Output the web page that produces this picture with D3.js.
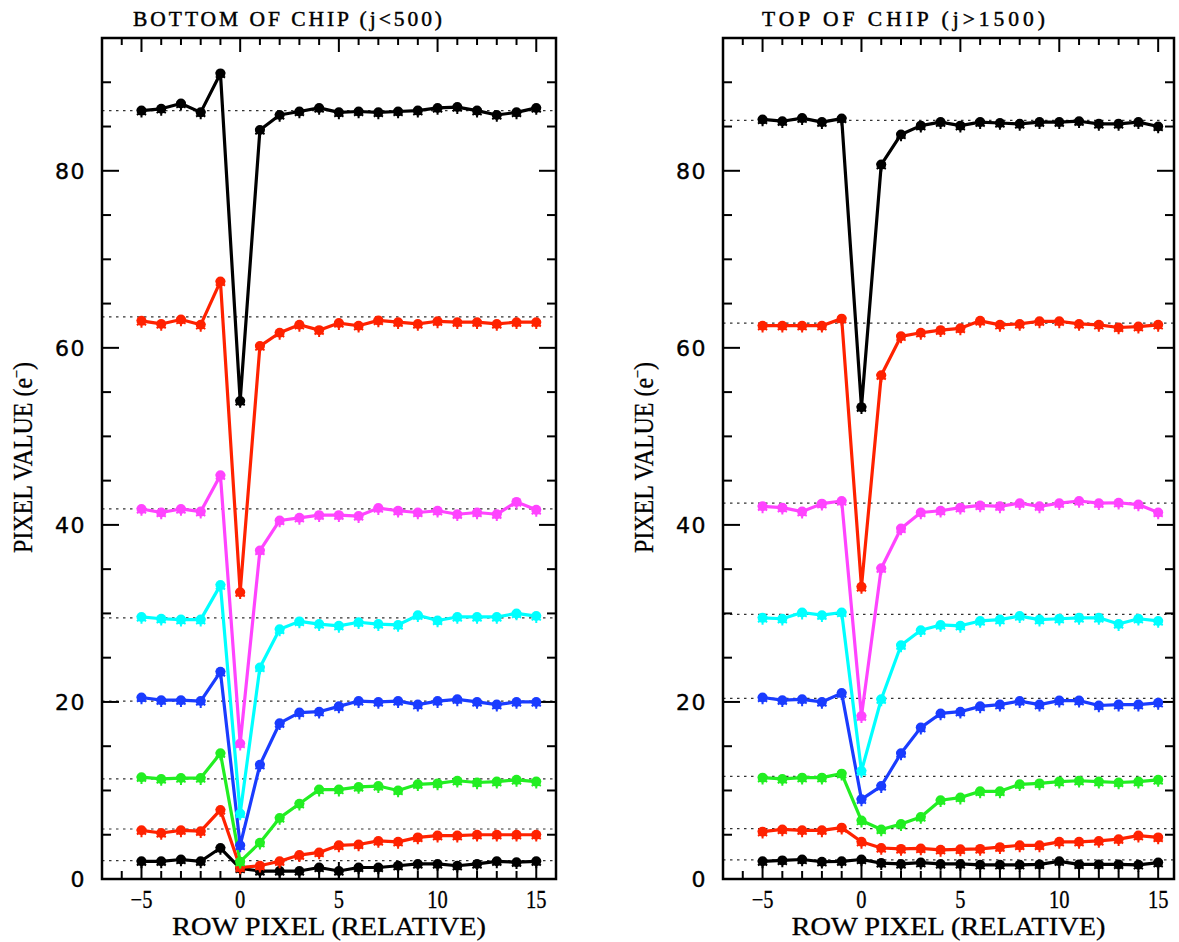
<!DOCTYPE html>
<html>
<head>
<meta charset="utf-8">
<script src="https://cdn.jsdelivr.net/npm/d3@7"></script>
<style>
  html, body { margin: 0; padding: 0; background: #fff; }
  svg { display: block; }
</style>
</head>
<body>
<svg id="chart" width="1179" height="942"></svg>
<script>
// Row offsets relative to the trap row
const rowPixel = [-5, -4, -3, -2, -1, 0, 1, 2, 3, 4, 5, 6, 7, 8, 9, 10, 11, 12, 13, 14, 15];

// Series colours, from the brightest background level down to the faintest
const seriesColors = ["#000000", "#ff2200", "#ff44ff", "#00ffff", "#1a3cff", "#22ee22", "#ff2200", "#000000"];

// Bottom of chip (j<500): mean background level of each series
const bottomLevels = [86.8, 63.5, 41.8, 29.5, 20.1, 11.3, 5.65, 2.07];
// Bottom of chip: pixel values per row offset
const bottomBlackHigh = [86.8, 87.0, 87.6, 86.6, 91.0, 54.0, 84.6, 86.3, 86.7, 87.1, 86.6, 86.7, 86.6, 86.7, 86.8, 87.1, 87.2, 86.8, 86.3, 86.6, 87.1];
const bottomRedHigh   = [63.05, 62.7, 63.2, 62.6, 67.5, 32.4, 60.2, 61.7, 62.6, 62.0, 62.8, 62.5, 63.1, 62.9, 62.7, 63.0, 62.9, 62.9, 62.7, 62.9, 62.9];
const bottomMagenta   = [41.8, 41.4, 41.8, 41.5, 45.6, 15.3, 37.1, 40.5, 40.8, 41.1, 41.1, 41.0, 41.9, 41.6, 41.4, 41.6, 41.2, 41.4, 41.2, 42.6, 41.7];
const bottomCyan      = [29.6, 29.4, 29.3, 29.3, 33.2, 7.4, 23.9, 28.2, 29.1, 28.8, 28.6, 29.0, 28.8, 28.7, 29.8, 29.2, 29.6, 29.6, 29.6, 30.0, 29.7];
const bottomBlue      = [20.5, 20.2, 20.2, 20.1, 23.4, 3.8, 12.9, 17.6, 18.8, 18.9, 19.5, 20.1, 20.0, 20.1, 19.7, 20.1, 20.3, 20.0, 19.7, 20.0, 20.0];
const bottomGreen     = [11.5, 11.3, 11.4, 11.4, 14.2, 1.96, 4.1, 6.9, 8.5, 10.1, 10.1, 10.4, 10.5, 10.0, 10.7, 10.8, 11.1, 10.9, 11.0, 11.2, 11.0];
const bottomRedLow    = [5.5, 5.2, 5.5, 5.4, 7.8, 1.3, 1.5, 2.0, 2.7, 3.0, 3.8, 3.9, 4.3, 4.2, 4.7, 4.9, 4.9, 5.0, 5.0, 5.0, 5.0];
const bottomBlackLow  = [2.0, 2.0, 2.2, 2.0, 3.5, 1.2, 0.9, 0.9, 0.9, 1.3, 0.9, 1.3, 1.3, 1.5, 1.7, 1.7, 1.5, 1.7, 2.0, 1.9, 2.0];

// Top of chip (j>1500): mean background level of each series
const topLevels = [85.7, 62.8, 42.45, 29.9, 20.4, 11.6, 5.7, 2.15];
// Top of chip: pixel values per row offset
const topBlackHigh = [85.8, 85.6, 85.95, 85.5, 85.9, 53.3, 80.7, 84.1, 85.1, 85.5, 85.1, 85.5, 85.4, 85.3, 85.5, 85.5, 85.6, 85.3, 85.3, 85.5, 85.0];
const topRedHigh   = [62.5, 62.5, 62.5, 62.5, 63.3, 33.0, 56.9, 61.3, 61.7, 62.0, 62.2, 63.05, 62.6, 62.7, 63.0, 63.0, 62.7, 62.6, 62.3, 62.4, 62.6];
const topMagenta   = [42.1, 41.95, 41.5, 42.4, 42.7, 18.4, 35.1, 39.6, 41.4, 41.6, 41.95, 42.2, 42.1, 42.45, 42.1, 42.45, 42.7, 42.45, 42.5, 42.3, 41.4];
const topCyan      = [29.5, 29.4, 30.1, 29.8, 30.1, 12.2, 20.3, 26.4, 28.1, 28.7, 28.6, 29.15, 29.3, 29.7, 29.3, 29.4, 29.5, 29.5, 28.8, 29.4, 29.15];
const topBlue      = [20.5, 20.2, 20.3, 20.0, 21.0, 9.0, 10.5, 14.2, 17.1, 18.7, 18.9, 19.5, 19.7, 20.1, 19.7, 20.15, 20.15, 19.6, 19.7, 19.7, 19.9];
const topGreen     = [11.45, 11.3, 11.45, 11.45, 11.9, 6.6, 5.6, 6.2, 7.0, 8.9, 9.2, 9.9, 9.9, 10.7, 10.8, 11.0, 11.1, 11.0, 10.9, 11.0, 11.2];
const topRedLow    = [5.35, 5.6, 5.5, 5.5, 5.8, 4.2, 3.5, 3.4, 3.45, 3.3, 3.35, 3.4, 3.6, 3.8, 3.8, 4.2, 4.2, 4.3, 4.5, 4.9, 4.7];
const topBlackLow  = [2.0, 2.1, 2.2, 1.95, 2.0, 2.2, 1.8, 1.7, 1.85, 1.7, 1.7, 1.6, 1.6, 1.6, 1.65, 2.0, 1.65, 1.65, 1.65, 1.6, 1.85];

// Axis ticks
const xMajorTicks = [-5, 0, 5, 10, 15];
const xTickLabels = ["\u22125", "0", "5", "10", "15"];
const yMajorTicks = [0, 20, 40, 60, 80];
const yTickLabels = ["0", "20", "40", "60", "80"];

const panelTitles = ["BOTTOM OF CHIP (j<500)", "TOP OF CHIP (j>1500)"];
const xAxisTitle = "ROW PIXEL (RELATIVE)";
const yAxisTitle = "PIXEL VALUE (e";

const panels = [
  {
    title: panelTitles[0],
    levels: bottomLevels,
    series: [bottomBlackHigh, bottomRedHigh, bottomMagenta, bottomCyan, bottomBlue, bottomGreen, bottomRedLow, bottomBlackLow],
    left: 102, right: 556, xMax: 16, titleX: 133, titleW: 309
  },
  {
    title: panelTitles[1],
    levels: topLevels,
    series: [topBlackHigh, topRedHigh, topMagenta, topCyan, topBlue, topGreen, topRedLow, topBlackLow],
    left: 723, right: 1174, xMax: 15.8, titleX: 762, titleW: 283
  }
];

const serif = "'Liberation Serif', 'DejaVu Serif', serif";
const svg = d3.select("#chart");
const plotTop = 38, plotBottom = 879;
const y = d3.scaleLinear().domain([0, 95]).range([plotBottom, plotTop]);

panels.forEach(p => {
  const x = d3.scaleLinear().domain([-7, p.xMax]).range([p.left, p.right]);
  const g = svg.append("g");

  // Reference levels (dotted)
  g.selectAll("line.level").data(p.levels).join("line")
    .attr("class", "level")
    .attr("x1", p.left).attr("x2", p.right)
    .attr("y1", d => y(d)).attr("y2", d => y(d))
    .attr("stroke", "#333").attr("stroke-width", 1.2)
    .attr("stroke-dasharray", "2.5,4.5");

  // Ticks on all four sides
  const xMinor = d3.range(-6, 16);
  const yMinor = d3.range(5, 95, 5);
  const tickG = g.append("g").attr("stroke", "#000").attr("stroke-width", 2);
  xMinor.forEach(v => {
    const major = xMajorTicks.includes(v);
    tickG.append("line").attr("x1", x(v)).attr("x2", x(v)).attr("y1", plotBottom).attr("y2", plotBottom - (major ? 17 : 8));
    tickG.append("line").attr("x1", x(v)).attr("x2", x(v)).attr("y1", plotTop).attr("y2", plotTop + (major ? 14 : 7));
  });
  yMinor.forEach(v => {
    const len = yMajorTicks.includes(v) ? 17 : 9;
    tickG.append("line").attr("x1", p.left).attr("x2", p.left + len).attr("y1", y(v)).attr("y2", y(v));
    tickG.append("line").attr("x1", p.right).attr("x2", p.right - len).attr("y1", y(v)).attr("y2", y(v));
  });

  // Data lines and markers, faintest level drawn first
  const line = d3.line().x((d, i) => x(rowPixel[i])).y(d => y(d));
  const order = d3.range(p.series.length).reverse();
  const asterisk = d3.symbol().type(d3.symbolAsterisk).size(80);
  order.forEach(si => {
    const vals = p.series[si];
    const col = seriesColors[si];
    const sg = g.append("g");
    sg.append("path").datum(vals)
      .attr("d", line)
      .attr("fill", "none").attr("stroke", col)
      .attr("stroke-width", 3.2).attr("stroke-linejoin", "round");
    sg.selectAll("circle").data(vals).join("circle")
      .attr("cx", (d, i) => x(rowPixel[i])).attr("cy", d => y(d))
      .attr("r", 5).attr("fill", col);
    sg.selectAll("path.ast").data(vals).join("path")
      .attr("class", "ast")
      .attr("d", asterisk)
      .attr("transform", (d, i) => `translate(${x(rowPixel[i])},${y(d) + 1.5})`)
      .attr("fill", "none").attr("stroke", col).attr("stroke-width", 2);
  });

  // Frame
  g.append("rect")
    .attr("x", p.left).attr("y", plotTop)
    .attr("width", p.right - p.left).attr("height", plotBottom - plotTop)
    .attr("fill", "none").attr("stroke", "#000").attr("stroke-width", 2.5);

  // X tick labels
  g.selectAll("text.xt").data(xMajorTicks).join("text")
    .attr("class", "xt")
    .attr("x", d => x(d)).attr("y", 908)
    .attr("text-anchor", "middle")
    .attr("font-family", serif)
    .attr("font-size", 25)
    .attr("stroke", "#000").attr("stroke-width", 0.3)
    .attr("transform", d => `translate(${x(d) * 0.18},0) scale(0.82,1)`)
    .text((d, i) => xTickLabels[i]);

  // Y tick labels
  g.selectAll("text.yt").data(yMajorTicks).join("text")
    .attr("class", "yt")
    .attr("x", p.left - 16).attr("y", d => y(d) + 8)
    .attr("text-anchor", "end")
    .attr("font-family", "'DejaVu Sans', sans-serif")
    .attr("font-size", 22)
    .attr("letter-spacing", 1.5)
    .attr("stroke", "#000").attr("stroke-width", 0.4)
    .text((d, i) => yTickLabels[i]);

  // Panel title
  g.append("text")
    .attr("x", p.titleX).attr("y", 26)
    .attr("font-family", serif)
    .attr("font-size", 21.5)
    .attr("stroke", "#000").attr("stroke-width", 0.45)
    .attr("textLength", p.titleW).attr("lengthAdjust", "spacing")
    .text(p.title);

  // X axis title
  const cx = (p.left + p.right) / 2;
  g.append("text")
    .attr("x", cx - 157).attr("y", 935)
    .attr("font-family", serif)
    .attr("font-size", 26)
    .attr("stroke", "#000").attr("stroke-width", 0.3)
    .attr("textLength", 314).attr("lengthAdjust", "spacingAndGlyphs")
    .text(xAxisTitle);

  // Y axis title (rotated)
  const yt = g.append("text")
    .attr("transform", `translate(${p.left - 70},553) rotate(-90)`)
    .attr("font-family", serif)
    .attr("font-size", 27)
    .attr("stroke", "#000").attr("stroke-width", 0.3)
    .attr("textLength", 191).attr("lengthAdjust", "spacingAndGlyphs");
  yt.append("tspan").text(yAxisTitle);
  yt.append("tspan").attr("dy", -10).attr("font-size", 16).text("\u2212");
  yt.append("tspan").attr("dy", 10).text(")");
});
</script>
</body>
</html>
